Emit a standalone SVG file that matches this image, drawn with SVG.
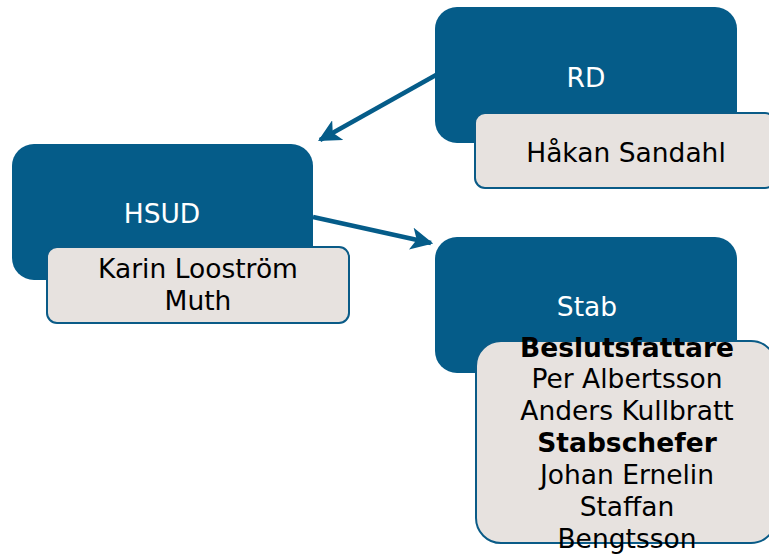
<svg xmlns="http://www.w3.org/2000/svg" width="769" height="555" viewBox="0 0 769 555">
  <style>
    .box { fill: #055c89; }
    .label { fill: #e7e2df; stroke: #0a5b87; stroke-width: 2; }
    .head { font-family: "DejaVu Sans", Verdana, sans-serif; font-size: 26.5px; fill: #ffffff; text-anchor: middle; }
    .name { font-family: "DejaVu Sans", Verdana, sans-serif; font-size: 26.5px; fill: #000000; text-anchor: middle; }
    .bold { font-weight: bold; }
    .conn { stroke: #055c89; stroke-width: 4.5; fill: none; marker-end: url(#arrow); }
  </style>
  <defs>
    <marker id="arrow" viewBox="0 0 10 10" refX="9" refY="5" markerWidth="5" markerHeight="5" orient="auto" markerUnits="strokeWidth">
      <path d="M0,0 L10,5 L0,10 L2.5,5 z" fill="#055c89"/>
    </marker>
  </defs>

  <g id="connectors">
    <line class="conn" x1="436" y1="75" x2="320" y2="140"/>
    <line class="conn" x1="313" y1="217" x2="431" y2="243"/>
  </g>

  <g id="rd">
    <rect class="box" x="435" y="7" width="302" height="136" rx="22"/>
    <text class="head" x="586" y="87">RD</text>
    <rect class="label" x="475" y="113" width="300" height="75" rx="10"/>
    <text class="name" x="626" y="162">Håkan Sandahl</text>
  </g>

  <g id="hsud">
    <rect class="box" x="12" y="144" width="301" height="136" rx="22"/>
    <text class="head" x="162" y="223">HSUD</text>
    <rect class="label" x="47" y="247" width="302" height="76" rx="10"/>
    <text class="name" x="198" y="278">Karin Looström</text>
    <text class="name" x="198" y="310">Muth</text>
  </g>

  <g id="stab">
    <rect class="box" x="435" y="237" width="302" height="136" rx="22"/>
    <text class="head" x="587" y="316">Stab</text>
    <rect class="label" x="476" y="341" width="300" height="202" rx="25"/>
    <text class="name bold" x="627" y="357">Beslutsfattare</text>
    <text class="name" x="627" y="388">Per Albertsson</text>
    <text class="name" x="627" y="420">Anders Kullbratt</text>
    <text class="name bold" x="627" y="452">Stabschefer</text>
    <text class="name" x="627" y="484">Johan Ernelin</text>
    <text class="name" x="627" y="516">Staffan</text>
    <text class="name" x="627" y="548">Bengtsson</text>
  </g>
</svg>
